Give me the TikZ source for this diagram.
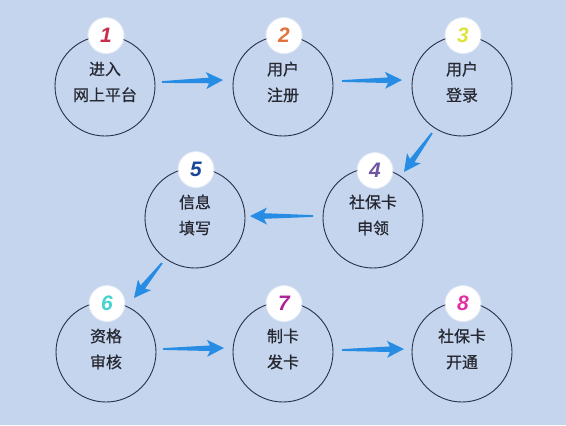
\documentclass[tikz,border=0pt]{standalone}
\usepackage{fontspec}
\newfontfamily\cjk[FakeBold=0.7]{Noto Sans CJK SC}
\newfontfamily\numfont{Liberation Sans}
\usetikzlibrary{calc}
\definecolor{bgcol}{RGB}{197,213,238}
\definecolor{ringcol}{RGB}{40,48,75}
\definecolor{txtcol}{RGB}{38,40,50}
\definecolor{arrcol}{RGB}{38,140,228}
\definecolor{n1}{RGB}{200,45,75}
\definecolor{n2}{RGB}{225,115,60}
\definecolor{n3}{RGB}{222,228,60}
\definecolor{n4}{RGB}{110,85,165}
\definecolor{n5}{RGB}{25,70,150}
\definecolor{n6}{RGB}{70,210,210}
\definecolor{n7}{RGB}{175,35,150}
\definecolor{n8}{RGB}{225,50,165}
\begin{document}
\begin{tikzpicture}[x=1bp,y=-1bp,
  ring/.style={circle,draw=ringcol,line width=0.9bp,minimum size=100bp,inner sep=0pt},
  badge/.style={circle,fill=white,draw=white,draw opacity=0.5,line width=2bp,minimum size=35bp,inner sep=0pt,
    font=\numfont\bfseries\itshape\fontsize{21}{21}\selectfont},
  lbl/.style={align=center,text=txtcol,font=\cjk\fontsize{16}{26}\selectfont,inner sep=0pt},
  flow/.style={to path={
    ($(\tikztostart)!0.9bp!90:(\tikztotarget)$)
    -- ($(\tikztotarget)!14bp!(\tikztostart)!2.8bp!-90:(\tikztostart)$)
    -- ($(\tikztotarget)!17bp!(\tikztostart)!8.5bp!-90:(\tikztostart)$)
    -- (\tikztotarget)
    -- ($(\tikztotarget)!17bp!(\tikztostart)!8.5bp!90:(\tikztostart)$)
    -- ($(\tikztotarget)!14bp!(\tikztostart)!2.8bp!90:(\tikztostart)$)
    -- ($(\tikztostart)!0.9bp!-90:(\tikztotarget)$)
    -- cycle}},
  arrow/.style={fill=arrcol}
]
\fill[bgcol] (0,0) rectangle (566,425);
\useasboundingbox (0,0) rectangle (566,425);

% circles
\node[ring] (c1) at (105,86) {};
\node[ring] (c2) at (283,86) {};
\node[ring] (c3) at (462,86) {};
\node[ring] (c4) at (373,218) {};
\node[ring] (c5) at (195,218) {};
\node[ring] (c6) at (106,352) {};
\node[ring] (c7) at (283,352) {};
\node[ring] (c8) at (462,352) {};

% labels
\node[lbl] (t1) at ($(c1)+(0,-4)$) {进入\\网上平台};
\node[lbl] (t2) at ($(c2)+(0,-4)$) {用户\\注册};
\node[lbl] (t3) at ($(c3)+(0,-4)$) {用户\\登录};
\node[lbl] (t4) at ($(c4)+(0,-3)$) {社保卡\\申领};
\node[lbl] (t5) at ($(c5)+(0,-3)$) {信息\\填写};
\node[lbl] (t6) at ($(c6)+(0,-3)$) {资格\\审核};
\node[lbl] (t7) at ($(c7)+(0,-3)$) {制卡\\发卡};
\node[lbl] (t8) at ($(c8)+(0,-3)$) {社保卡\\开通};

% badges
\node[badge,text=n1] (b1) at ($(c1.north)+(1,0)$) {1};
\node[badge,text=n2] (b2) at ($(c2.north)+(1,0)$) {2};
\node[badge,text=n3] (b3) at ($(c3.north)+(1,0)$) {3};
\node[badge,text=n4] (b4) at ($(c4.north)+(2,3)$) {4};
\node[badge,text=n5] (b5) at ($(c5.north)+(1,2)$) {5};
\node[badge,text=n6] (b6) at ($(c6.north)+(1,2)$) {6};
\node[badge,text=n7] (b7) at ($(c7.north)+(1,2)$) {7};
\node[badge,text=n8] (b8) at ($(c8.north)+(1,2)$) {8};

% arrow end points
\coordinate (a12s) at (162,82);  \coordinate (a12e) at (223,80);
\coordinate (a23s) at (342,81);  \coordinate (a23e) at (402,80);
\coordinate (a34s) at (432,133); \coordinate (a34e) at (404,172);
\coordinate (a45s) at (313,216); \coordinate (a45e) at (250,216);
\coordinate (a56s) at (162,263); \coordinate (a56e) at (134,298);
\coordinate (a67s) at (163,349); \coordinate (a67e) at (224,348);
\coordinate (a78s) at (342,350); \coordinate (a78e) at (404,349);

\fill[arrow] (a12s) to[flow] (a12e);
\fill[arrow] (a23s) to[flow] (a23e);
\fill[arrow] (a34s) to[flow] (a34e);
\fill[arrow] (a45s) to[flow] (a45e);
\fill[arrow] (a56s) to[flow] (a56e);
\fill[arrow] (a67s) to[flow] (a67e);
\fill[arrow] (a78s) to[flow] (a78e);
\end{tikzpicture}
\end{document}
